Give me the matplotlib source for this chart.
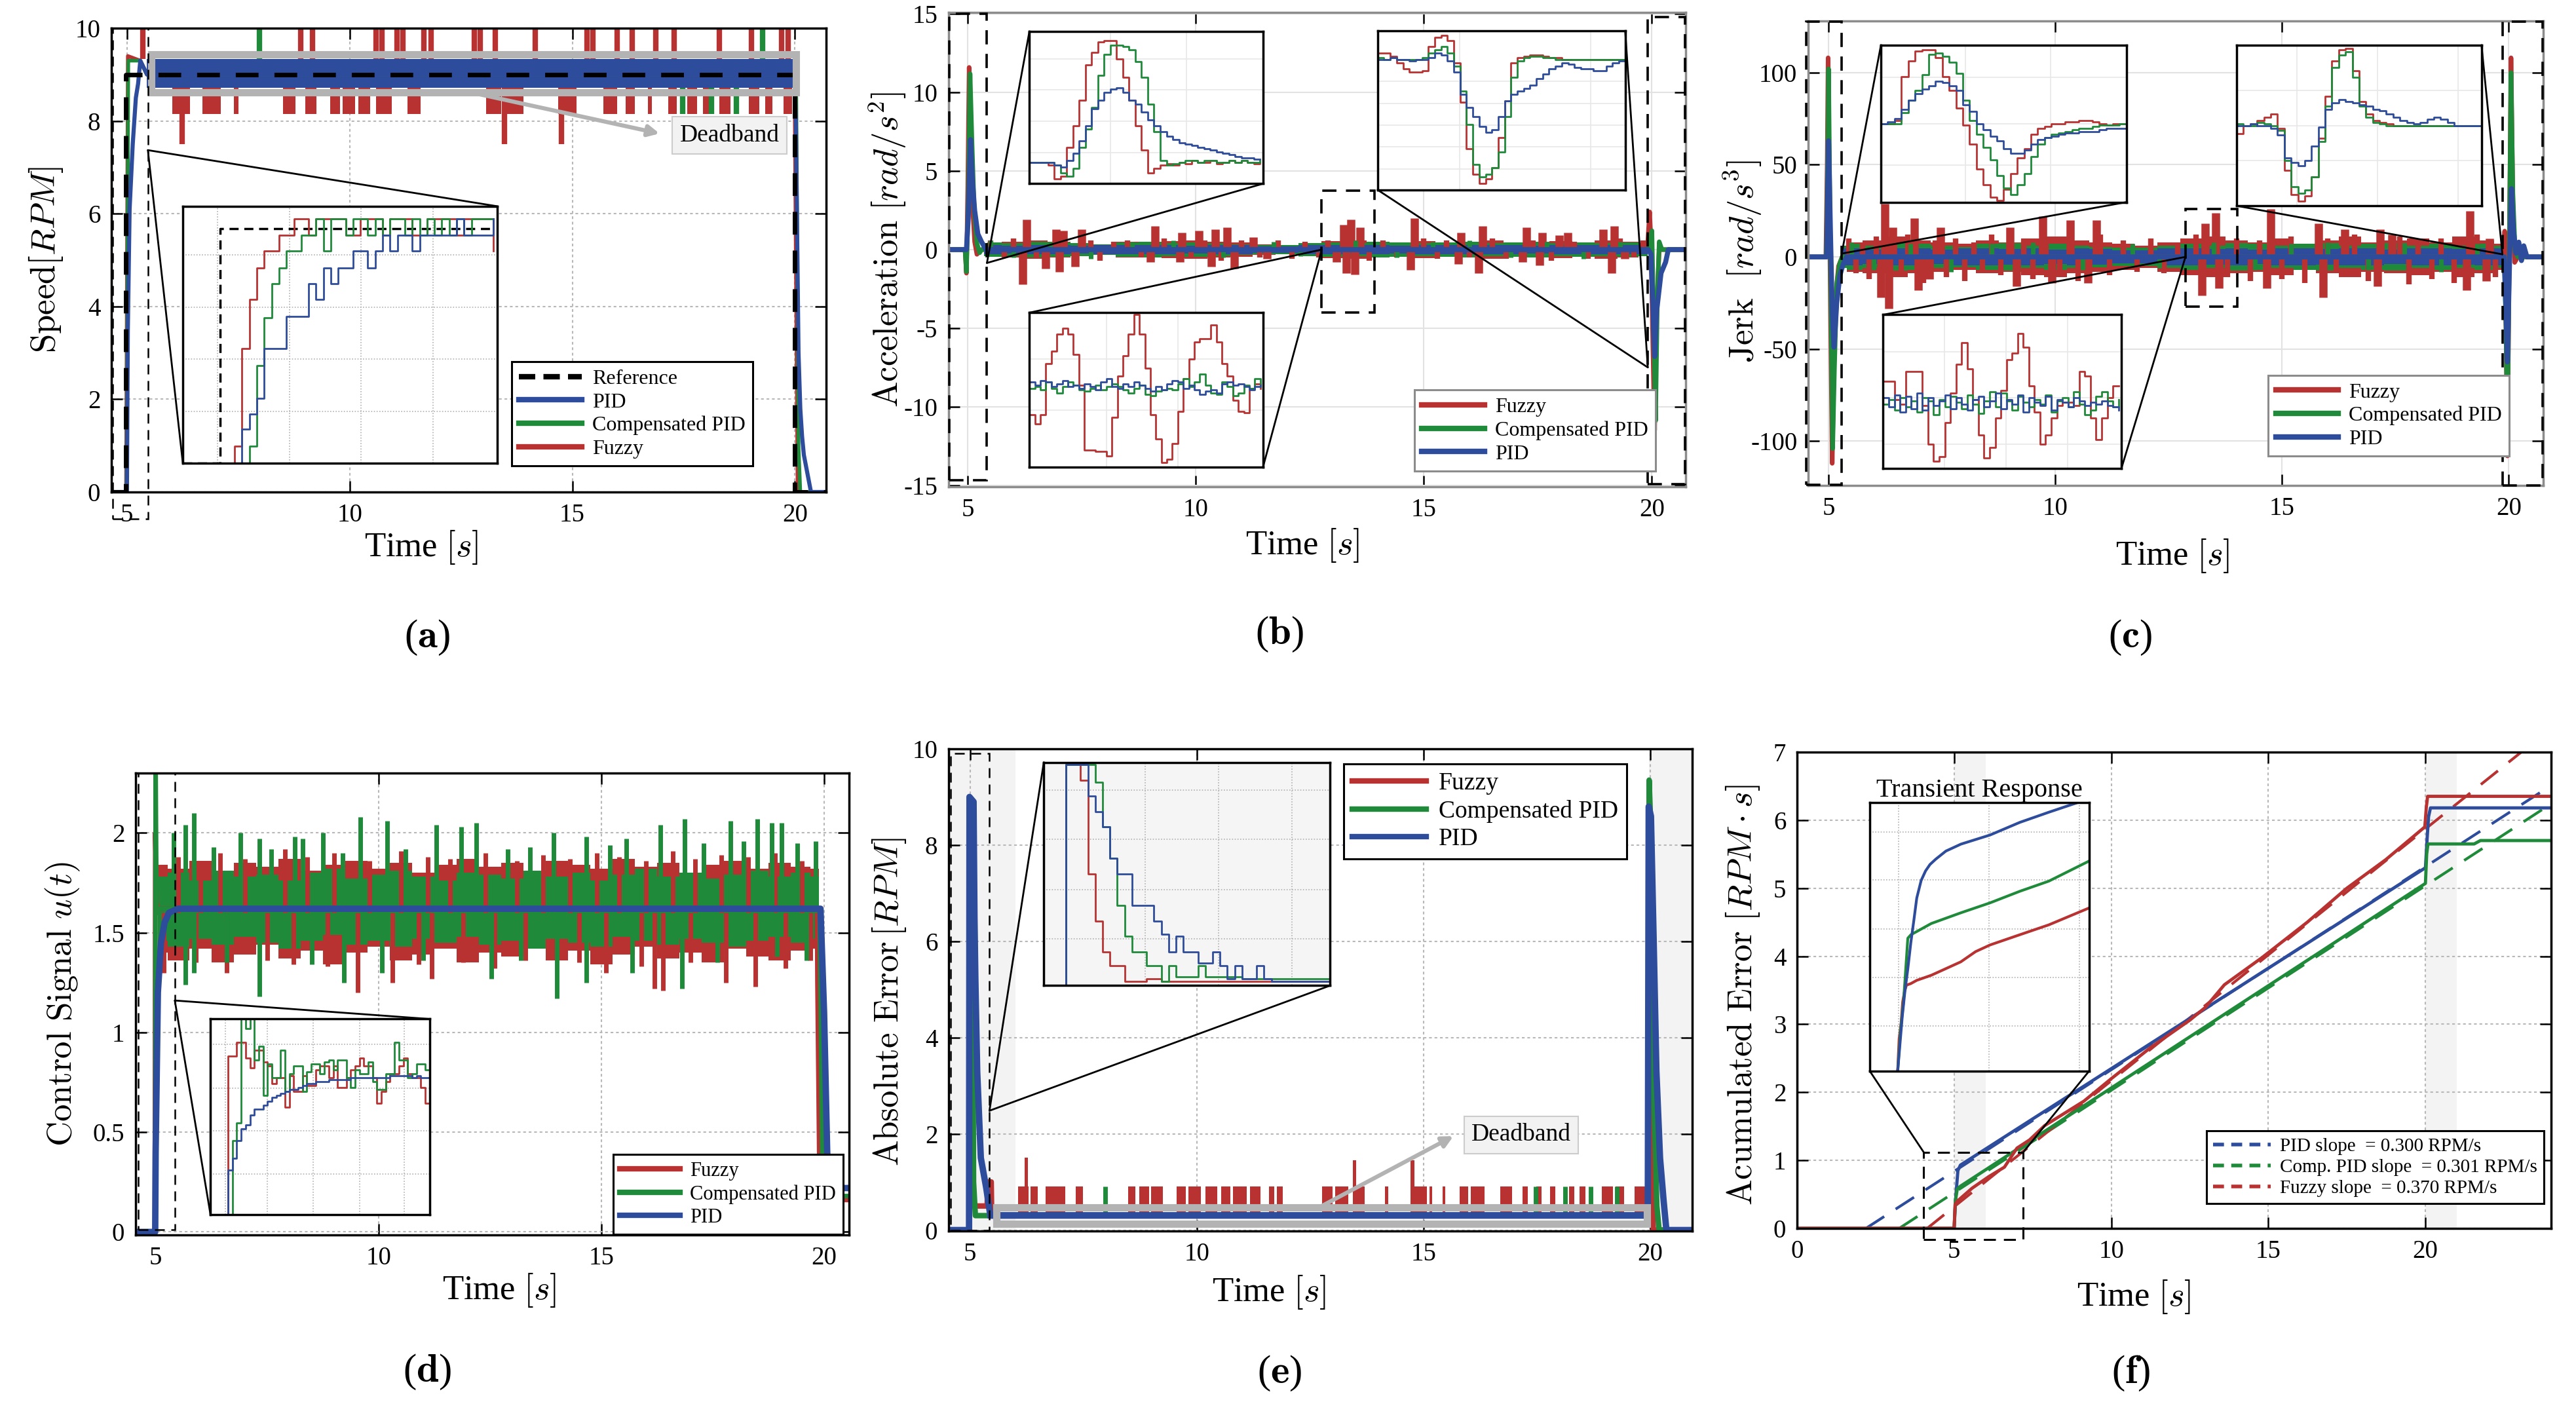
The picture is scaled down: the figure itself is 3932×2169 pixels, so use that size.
import numpy as np
import matplotlib
matplotlib.use("Agg")
import matplotlib.pyplot as plt
from matplotlib.patches import Rectangle, ConnectionPatch
from matplotlib.lines import Line2D

plt.rcParams['font.family'] = ['Liberation Serif', 'DejaVu Serif']
plt.rcParams['mathtext.fontset'] = 'cm'
plt.rcParams['axes.unicode_minus'] = False

RED = '#B83232'
GREEN = '#1F8A3A'
BLUE = '#2E4C9C'
GRAYBOX = '#b3b3b3'

# ---------------- (a) speed ----------------
speed_ref_t = [4.65, 4.97, 4.97, 19.99, 19.99, 20.7]
speed_ref_v = [0, 0, 9, 9, 0, 0]
speed_pid_t = [4.65, 5.0, 5.02, 5.06, 5.13, 5.2, 5.25, 5.3, 5.45, 19.99, 20.02, 20.08, 20.12, 20.16, 20.2, 20.26, 20.32, 20.36, 20.7]
speed_pid_v = [0, 0, 3.5, 6.1, 7.5, 8.5, 8.8, 9.3, 9.0, 9.0, 8.0, 3.0, 1.8, 1.2, 0.8, 0.5, 0.2, 0, 0]
speed_comp_t = [4.65, 4.99, 5.03, 5.3, 5.45, 19.99, 20.03, 20.08, 20.12, 20.7]
speed_comp_v = [0, 0, 9.3, 9.3, 9.0, 9.0, 8.5, 1.0, 0, 0]
speed_fuzzy_t = [4.65, 4.98, 5.02, 5.3, 5.45, 19.99, 20.02, 20.06, 20.7]
speed_fuzzy_v = [0, 0, 9.4, 9.3, 9.0, 9.0, 5.0, 0, 0]
speed_band = [5.45, 19.99, 8.72, 9.33]          # t0, t1, low, high of the PID band
speed_deadband = [5.55, 20.03, 8.62, 9.43]
speed_fuzzy_up_t = [5.35, 8.9, 9.17, 10.6, 10.72, 11.07, 11.2, 11.67, 11.83, 12.8, 12.94, 13.27, 14.17,
                    15.33, 15.47, 16.0, 16.35, 16.88, 17.28, 18.3, 19.03, 19.7, 19.85]
speed_fuzzy_dn_t0 = [6.02, 6.7, 7.4, 8.5, 9.0, 9.56, 9.85, 10.2, 10.6, 11.3, 13.06, 13.5, 14.69, 15.7, 16.2, 16.7,
                     17.16, 17.58, 17.94, 18.3, 18.97, 19.33, 19.75]
speed_fuzzy_dn_t1 = [6.42, 7.1, 7.5, 8.78, 9.25, 9.78, 10.12, 10.46, 10.95, 11.6, 13.4, 13.9, 15.1, 16.0, 16.4, 16.78,
                     17.34, 17.8, 18.06, 18.55, 19.2, 19.5, 19.93]
speed_fuzzy_deep_t = [6.24, 13.48, 14.75]
speed_comp_up_t = [7.98, 19.27]
speed_comp_dn_t = [17.48, 18.12, 18.69]
speed_levels = [10.0, 8.15, 7.5]               # spike tips: up, down, deep

speed_in_ref = [0, 0, 0, 0, 0] + [9.0] * 38
speed_in_fuzzy = [0, 0, 0, 0, 0, 0, 0, 0.65, 4.4, 6.3, 7.5, 8.15, 8.15, 8.76, 8.76, 9.4, 9.4,
                  8.76, 9.4, 9.4, 9.4, 9.4, 8.76, 8.76, 9.4, 9.4, 9.4, 8.76, 9.4, 9.4, 9.4, 8.76, 8.76,
                  9.4, 9.4, 9.4, 9.4, 8.76, 9.4, 9.4, 9.4, 9.4, 8.15]
speed_in_comp = [0] * 9 + [0.65, 3.75, 5.6, 6.9, 7.5, 8.15, 8.15, 8.76, 8.76, 9.4, 8.15, 9.4, 9.4, 8.76,
                           9.4, 9.4, 8.76, 9.4, 8.76, 9.4, 9.4, 8.76, 9.4, 8.76, 9.4, 8.76, 9.4, 8.76, 9.4,
                           8.76, 9.4, 9.4, 9.4, 9.4]
speed_in_pid = [0] * 8 + [1.3, 1.9, 2.5, 4.4, 4.4, 4.4, 5.65, 5.65, 5.65, 6.9, 6.3, 7.5, 6.9, 7.5, 7.5,
                          8.15, 8.15, 7.5, 8.15, 8.76, 8.15, 8.76, 8.76, 8.15, 8.76, 8.76, 8.76, 8.76, 8.76,
                          9.4, 8.76, 8.76, 8.76, 8.76, 9.4]

# ---------------- (b) acceleration ----------------
acc_fuzzy_t = [4.64, 4.94, 4.97, 5.0, 5.03, 5.06, 5.1, 5.15, 5.2, 5.3, 19.9, 19.95, 19.98, 20.02, 20.06, 20.1, 20.16, 20.69]
acc_fuzzy_v = [0, 0, -1.5, 4, 11.6, 8, 3, 0.5, -0.3, 0, 0, 2.4, 0.5, -6, -11.5, -4, 0, 0]
acc_comp_t = [4.64, 4.94, 4.97, 5.01, 5.05, 5.09, 5.14, 5.2, 5.26, 5.3, 19.9, 19.96, 20.0, 20.04, 20.08, 20.12, 20.16, 20.22, 20.69]
acc_comp_v = [0, 0, -1.4, 3, 11.2, 7, 2.5, 0.4, -0.2, 0, 0, 0.3, 1.2, -5, -10.9, -3, 0.5, 0, 0]
acc_pid_t = [4.64, 4.97, 5.01, 5.06, 5.1, 5.15, 5.22, 5.3, 5.4, 19.92, 19.98, 20.02, 20.06, 20.1, 20.2, 20.3, 20.36, 20.69]
acc_pid_v = [0, 0, 2, 7.0, 4.5, 2.5, 1.0, 0.5, 0, 0, -0.3, -3.5, -6.8, -4, -1.5, -0.8, 0, 0]
acc_env_t = [5.35, 5.5, 6.0, 6.5, 7.0, 7.5, 8.0, 8.5, 9.0, 9.5, 10.0, 10.5, 11.0, 11.5, 12.0, 12.5,
             13.0, 13.5, 14.0, 14.5, 15.0, 15.5, 16.0, 16.5, 17.0, 17.5, 18.0, 18.5, 19.0, 19.5, 19.9]
acc_fuzzy_env = [0.3, 0.4, 0.5, 0.6, 0.5, 0.4, 0.35, 0.5, 0.45, 0.55, 0.6, 0.5, 0.45, 0.35, 0.3, 0.4,
                 0.55, 0.6, 0.5, 0.45, 0.55, 0.35, 0.5, 0.6, 0.45, 0.5, 0.55, 0.45, 0.6, 0.5, 0.35]
acc_comp_env = [0.4, 0.45, 0.4, 0.5, 0.45, 0.4, 0.35, 0.45, 0.5, 0.4, 0.45, 0.4, 0.35, 0.3, 0.3, 0.4,
                0.45, 0.4, 0.5, 0.45, 0.4, 0.45, 0.5, 0.4, 0.45, 0.5, 0.4, 0.45, 0.4, 0.45, 0.4]
acc_pid_env = [0.3, 0.3, 0.25, 0.3, 0.3, 0.25, 0.3, 0.3, 0.28, 0.3, 0.25, 0.3, 0.28, 0.22, 0.22, 0.3,
               0.3, 0.28, 0.3, 0.25, 0.3, 0.3, 0.28, 0.3, 0.3, 0.25, 0.3, 0.3, 0.28, 0.3, 0.3]
acc_fuzzy_spk_t = [6.2, 6.29, 6.71, 6.93, 7.01, 7.1, 7.35, 7.49, 9.0, 9.1, 9.65, 9.7, 10.07, 10.34, 10.43,
                   10.69, 10.84, 11.26, 11.56, 13.08, 13.24, 13.3, 13.4, 13.48, 13.6, 14.71, 14.8, 15.75,
                   15.81, 16.2, 16.29, 17.17, 17.25, 17.53, 17.6, 17.97, 18.15, 18.93, 19.11, 19.17, 19.41]
acc_fuzzy_spk_v = [-2.2, 1.9, -1.2, 1.3, -1.4, 1.2, -1.1, 1.3, -0.8, 1.5, -0.8, 1.1, 1.2, -1.1, 1.3,
                   1.4, -1.2, 0.8, -0.6, -0.8, 1.6, -1.5, 1.9, -1.6, 1.4, -1.3, 2.0, -0.9,
                   1.1, -1.5, 1.5, -0.8, 1.4, -1.0, 1.1, 0.9, 1.1, 1.3, -1.5, 1.5, -0.6]
acc_fuzzy_small_t = [5.5, 5.8, 6.0, 6.5, 7.7, 7.9, 8.2, 8.5, 8.8, 9.3, 9.9, 10.2, 10.55, 11.0, 11.4, 11.8,
                     12.1, 12.4, 12.7, 12.9, 13.8, 14.1, 14.4, 15.0, 15.3, 15.5, 16.0, 16.5, 16.8, 17.4,
                     17.8, 18.3, 18.6, 19.3, 19.6, 19.8]
acc_fuzzy_small_v = [0.6, -0.5, 0.7, -0.6, 0.6, -0.7, 0.5, 0.6, -0.5, 0.7, -0.6, 0.5, -0.7, 0.6, -0.5, 0.6,
                     -0.6, 0.5, -0.5, 0.6, -0.7, 0.6, -0.5, 0.7, -0.6, 0.6, -0.5, 0.7, -0.6, 0.6,
                     -0.7, 0.5, -0.6, 0.7, -0.5, 0.6]
acc_comp_spk_t = [5.5, 6.0, 6.8, 7.7, 8.6, 9.5, 10.6, 11.7, 12.3, 13.5, 14.4, 15.2, 16.0, 16.9, 17.7, 18.5, 19.3]
acc_comp_spk_v = [0.6, -0.5, 0.5, -0.6, 0.5, 0.6, -0.5, 0.5, -0.4, 0.6, -0.5, 0.5, 0.6, -0.5, 0.5, -0.6, 0.5]

acc_in1_fuzzy = [14, 14, 14, 12, 3, 5, 24, 38, 55, 78, 86, 93, 94, 94, 82, 70, 55, 38, 22, 7, 10, 12, 13, 12,
                 14, 13, 15, 14, 14, 15, 13, 14, 15, 14, 15, 14, 13, 14]
acc_in1_comp = [14, 14, 14, 14, 12, 7, 5, 10, 24, 36, 50, 71, 85, 91, 91, 90, 88, 80, 70, 52, 34, 15, 12, 13,
                14, 15, 15, 14, 15, 15, 14, 14, 15, 14, 15, 14, 14, 15]
acc_in1_pid = [14, 14, 14, 14, 12, 11, 15, 20, 28, 38, 49, 55, 60, 62, 63, 60, 55, 52, 47, 42, 38, 34, 31, 29,
               27, 26, 25, 24, 23, 22, 21, 20, 19, 18, 17, 17, 16, 16]
acc_in2_fuzzy = [34, 28, 34, 67, 75, 86, 90, 86, 73, 53, 11, 11, 10, 10, 7, 32, 59, 72, 86, 99, 86, 64, 34, 18,
                 3, 5, 15, 36, 57, 70, 81, 83, 83, 92, 81, 67, 59, 43, 36, 35, 51, 54, 51]
acc_in2_comp = [51, 52, 50, 55, 51, 48, 52, 55, 53, 50, 49, 51, 53, 50, 52, 54, 52, 50, 48, 51, 53, 47, 46, 49,
                50, 51, 50, 54, 57, 52, 55, 60, 53, 48, 47, 55, 52, 46, 48, 53, 51, 57, 52]
acc_in2_pid = [55, 53, 56, 55, 52, 54, 56, 52, 53, 51, 54, 52, 50, 55, 57, 52, 51, 54, 52, 55, 53, 51, 49, 52,
               50, 54, 56, 55, 51, 53, 50, 47, 49, 50, 48, 54, 55, 53, 54, 52, 50, 52, 53]
acc_in3_fuzzy = [86, 86, 84, 80, 76, 74, 74, 75, 90, 96, 97, 94, 80, 55, 26, 10, 4, 7, 14, 33, 56, 80, 83, 84,
                 85, 85, 84, 83, 83, 82, 82, 82, 82, 82, 82, 82, 82, 82, 82, 82]
acc_in3_comp = [83, 82, 83, 82, 82, 82, 82, 83, 86, 88, 90, 86, 78, 62, 41, 16, 8, 10, 14, 24, 46, 71, 81, 83,
                84, 84, 83, 83, 82, 82, 82, 82, 82, 82, 82, 82, 82, 82, 82, 82]
acc_in3_pid = [82, 82, 83, 82, 82, 81, 82, 82, 83, 86, 85, 81, 74, 60, 52, 46, 40, 36, 38, 46, 56, 60, 62, 64,
               66, 70, 73, 76, 78, 80, 79, 77, 76, 76, 75, 75, 78, 80, 81, 82]

# ---------------- (c) jerk ----------------
jerk_fuzzy_t = [4.55, 4.94, 4.97, 4.99, 5.03, 5.08, 5.11, 5.16, 5.22, 5.3, 19.88, 19.91, 19.94, 19.97, 20.01,
                20.05, 20.09, 20.13, 20.2, 20.76]
jerk_fuzzy_v = [0, 0, 50, 108, 0, -112, -70, -20, -5, 0, 0, 14, -40, -108, 0, 108, 30, -3, 0, 0]
jerk_comp_t = [4.55, 4.95, 4.98, 5.0, 5.04, 5.09, 5.13, 5.18, 5.24, 5.3, 19.9, 19.94, 19.97, 20.01, 20.05,
               20.09, 20.14, 20.2, 20.76]
jerk_comp_v = [0, 0, 50, 102, 0, -104, -60, -15, -4, 0, 0, -40, -97, 0, 100, 35, 3, 0, 0]
jerk_pid_t = [4.55, 4.96, 5.0, 5.04, 5.08, 5.12, 5.18, 5.25, 5.32, 5.4, 19.9, 19.94, 19.97, 20.01, 20.06,
              20.1, 20.16, 20.22, 20.28, 20.33, 20.4, 20.76]
jerk_pid_v = [0, 0, 63, 15, -30, -49, -25, -10, -4, 0, 0, -30, -57, -10, 37, 15, 2, 8, -2, 6, 0, 0]
jerk_env_t = [5.3, 5.5, 6.0, 6.5, 7.0, 7.5, 8.0, 8.5, 9.0, 9.5, 10.0, 10.5, 11.0, 11.5, 12.0, 12.5,
              13.0, 13.5, 14.0, 14.5, 15.0, 15.5, 16.0, 16.5, 17.0, 17.5, 18.0, 18.5, 19.0, 19.5, 19.85]
jerk_fuzzy_env = [6, 8, 9, 11, 9, 8, 7, 9, 8, 10, 11, 9, 8, 7, 6, 8, 10, 11, 9, 8, 10, 7, 9, 11, 8, 9, 10, 8,
                  11, 9, 7]
jerk_comp_env = [6, 7, 6, 7.5, 7, 6, 5.5, 7, 7.5, 6, 7, 6, 5.5, 5, 5, 6, 7, 6, 7.5, 7, 6, 7, 7.5, 6, 7, 7.5,
                 6, 7, 6, 7, 6]
jerk_pid_env = [4.5, 4.5, 4, 4.5, 4.5, 4, 4.5, 4.5, 4.2, 4.5, 4, 4.5, 4.2, 3.5, 3.5, 4.5, 4.5, 4.2, 4.5, 4,
                4.5, 4.5, 4.2, 4.5, 4.5, 4, 4.5, 4.5, 4.2, 4.5, 4.5]
jerk_fuzzy_spk_t = [6.15, 6.24, 6.33, 6.42, 6.89, 6.98, 7.22, 7.47, 9.0, 9.15, 9.72, 9.93, 10.33, 10.72,
                    10.9, 13.24, 13.3, 13.53, 13.61, 14.66, 14.75, 15.8, 15.9, 16.38, 17.1, 17.17, 17.42,
                    19.07, 19.14, 19.5, 19.57]
jerk_fuzzy_spk_v = [-22, 29, -28, 16, 21, -18, -12, 16, 16, -16, 22, -14, 20, -14, 20, -21, 18, 24, -17,
                    -17, 26, 18, -22, 15, -16, 15, 12, -18, 25, -13, 10]
jerk_fuzzy_small_t = [5.45, 5.6, 5.75, 5.9, 6.05, 6.6, 6.75, 7.1, 7.35, 7.6, 7.8, 8.0, 8.2, 8.4, 8.6, 8.8,
                      9.3, 9.5, 9.8, 10.1, 10.5, 11.0, 11.2, 11.5, 11.8, 12.1, 12.4, 12.7, 13.1, 13.8,
                      14.0, 14.3, 14.5, 15.0, 15.2, 15.5, 16.0, 16.2, 16.6, 16.9, 17.6, 17.8, 18.0,
                      18.3, 18.5, 18.8, 19.3, 19.7]
jerk_fuzzy_small_v = [10, -9, 8, -12, 11, -10, 12, -14, 9, -11, 10, -13, 8, -9, 12, -10, 9, -12, 11, -9,
                      -13, 12, -10, 9, -8, 10, -9, 8, 12, -11, 10, -13, 9, -12, 11, -14, 10, -9, 12, -13,
                      11, -15, 9, -12, 10, -14, 12, -11]
jerk_comp_spk_t = [5.5, 6.0, 6.8, 7.7, 8.6, 9.5, 10.6, 11.7, 12.3, 13.5, 14.4, 15.2, 16.0, 16.9, 17.7, 18.5, 19.3]
jerk_comp_spk_v = [8, -7, 7, -8, 7, 8, -7, 7, -6, 8, -7, 7, 8, -7, 7, -8, 7]

jerk_in1_fuzzy = [50, 50, 52, 80, 90, 96, 97, 97, 92, 80, 71, 60, 49, 37, 21, 11, 3, 1, 8, 18, 28, 34, 43,
                  47, 48, 50, 50, 51, 51, 52, 52, 51, 50, 49, 50, 50, 49]
jerk_in1_comp = [50, 50, 50, 57, 65, 71, 81, 94, 95, 93, 89, 82, 65, 52, 43, 35, 27, 17, 9, 5, 11, 18, 29,
                 37, 41, 43, 44, 45, 46, 47, 47, 48, 49, 49, 49, 50, 51]
jerk_in1_pid = [50, 51, 53, 59, 65, 69, 72, 74, 77, 76, 74, 71, 62, 58, 50, 46, 42, 39, 34, 31, 31, 33, 37,
                40, 41, 42, 43, 44, 44, 45, 45, 45, 46, 47, 47, 47, 48]
jerk_in2_fuzzy = [57, 57, 45, 42, 63, 63, 63, 41, 16, 5, 8, 30, 49, 68, 82, 65, 45, 22, 7, 14, 33, 51, 71,
                  75, 88, 79, 54, 37, 16, 22, 33, 41, 43, 43, 41, 63, 60, 33, 19, 33, 46, 54, 54]
jerk_in2_comp = [42, 45, 38, 46, 40, 44, 37, 46, 44, 35, 45, 40, 47, 43, 39, 48, 42, 36, 44, 50, 40, 49, 44,
                 38, 47, 43, 40, 45, 42, 48, 37, 44, 46, 40, 50, 42, 35, 38, 47, 50, 44, 40, 45]
jerk_in2_pid = [46, 40, 48, 37, 47, 39, 49, 38, 46, 41, 44, 48, 39, 46, 42, 38, 45, 47, 40, 44, 49, 39, 45,
                42, 48, 37, 46, 43, 41, 47, 38, 45, 43, 40, 46, 44, 41, 43, 42, 44, 41, 40, 38]
jerk_in3_fuzzy = [45, 50, 51, 53, 55, 57, 48, 22, 7, 3, 6, 18, 42, 68, 90, 97, 98, 84, 65, 57, 53, 52, 51,
                  50, 50, 50, 50, 50, 50, 50, 50, 50, 50, 50, 50, 50, 50]
jerk_in3_comp = [51, 50, 50, 52, 51, 50, 47, 28, 12, 8, 10, 18, 40, 62, 86, 94, 96, 80, 62, 55, 52, 51, 50,
                 50, 50, 50, 50, 50, 50, 50, 50, 50, 50, 50, 50, 50, 50]
jerk_in3_pid = [50, 50, 51, 50, 50, 48, 44, 30, 27, 25, 28, 37, 49, 60, 64, 66, 65, 64, 63, 62, 60, 59, 57,
                55, 53, 52, 51, 52, 54, 55, 54, 52, 50, 50, 50, 50, 50]

# ---------------- (d) control signal ----------------
ctrl_pid_t = [4.55, 4.99, 5.0, 5.05, 5.12, 5.2, 5.3, 5.5, 19.92, 20.0, 20.07, 20.12, 20.56]
ctrl_pid_v = [0, 0, 0.4, 1.2, 1.45, 1.55, 1.6, 1.62, 1.62, 1.1, 0.4, 0.22, 0.22]
ctrl_comp_t = [4.55, 4.99, 5.0, 5.02, 5.05, 19.9, 19.97, 20.56]
ctrl_comp_v = [0, 0, 2.3, 1.6, 1.62, 1.62, 0.18, 0.18]
ctrl_fuzzy_t = [4.55, 4.98, 4.99, 5.02, 5.05, 19.84, 19.85, 19.9, 20.56]
ctrl_fuzzy_v = [0, 0, 2.0, 1.65, 1.62, 1.62, 1.25, 0.16, 0.16]
ctrl_band_t = [5.05, 5.5, 6.0, 6.5, 7.0, 7.5, 8.0, 8.5, 9.0, 9.5, 10.0, 10.5, 11.0, 11.5, 12.0, 12.5,
               13.0, 13.5, 14.0, 14.5, 15.0, 15.5, 16.0, 16.5, 17.0, 17.5, 18.0, 18.5, 19.0, 19.5, 19.88]
ctrl_fuzzy_hi = [1.84, 1.82, 1.86, 1.80, 1.85, 1.83, 1.87, 1.81, 1.84, 1.86, 1.82, 1.85, 1.80, 1.84, 1.87, 1.83,
                 1.85, 1.81, 1.86, 1.84, 1.82, 1.87, 1.83, 1.85, 1.80, 1.84, 1.86, 1.82, 1.85, 1.83, 1.82]
ctrl_fuzzy_lo = [1.40, 1.36, 1.42, 1.35, 1.39, 1.44, 1.37, 1.41, 1.34, 1.40, 1.43, 1.36, 1.39, 1.42, 1.35, 1.40,
                 1.38, 1.44, 1.36, 1.41, 1.34, 1.39, 1.43, 1.37, 1.40, 1.35, 1.42, 1.38, 1.36, 1.41, 1.42]
ctrl_comp_hi = [1.78, 1.80, 1.76, 1.81, 1.78, 1.79, 1.76, 1.80, 1.82, 1.77, 1.79, 1.81, 1.78, 1.76, 1.80, 1.79,
                1.77, 1.81, 1.78, 1.80, 1.76, 1.79, 1.82, 1.78, 1.80, 1.77, 1.79, 1.81, 1.78, 1.80, 1.78]
ctrl_comp_lo = [1.46, 1.43, 1.47, 1.44, 1.48, 1.45, 1.42, 1.46, 1.49, 1.44, 1.46, 1.43, 1.47, 1.45, 1.48, 1.44,
                1.46, 1.42, 1.47, 1.45, 1.43, 1.48, 1.46, 1.44, 1.47, 1.45, 1.43, 1.46, 1.48, 1.45, 1.47]
ctrl_comp_up_t = [5.4, 5.67, 5.86, 6.3, 6.9, 7.33, 7.6, 8.12, 8.3, 8.76, 9.2, 9.59, 10.2, 10.6, 11.3, 11.86,
                  12.2, 12.9, 13.4, 13.93, 14.67, 15.2, 15.56, 16.32, 16.87, 17.3, 17.9, 18.2, 18.5, 18.83,
                  19.04, 19.4, 19.81]
ctrl_comp_up_v = [2.0, 2.04, 2.1, 1.93, 2.0, 1.97, 1.92, 1.98, 1.97, 2.0, 1.9, 2.08, 2.06, 1.92, 2.04, 2.03,
                  2.05, 1.92, 1.93, 2.0, 1.98, 1.94, 1.97, 2.04, 2.07, 1.95, 2.06, 1.96, 2.07, 2.05,
                  2.05, 1.95, 1.96]
ctrl_comp_dn_t = [5.67, 5.86, 6.6, 7.33, 8.5, 9.22, 10.08, 11.0, 12.53, 13.2, 14.0, 14.67, 15.7, 16.81, 17.6, 18.95, 19.6]
ctrl_comp_dn_v = [1.24, 1.3, 1.35, 1.18, 1.34, 1.25, 1.3, 1.36, 1.27, 1.36, 1.17, 1.25, 1.3, 1.22, 1.35, 1.38, 1.36]
ctrl_fuzzy_up_t = [5.5, 6.0, 6.45, 7.0, 7.9, 8.4, 9.0, 9.8, 10.5, 11.1, 11.6, 12.4, 13.1, 13.7, 14.3, 14.9,
                   15.4, 16.0, 16.6, 17.1, 17.7, 18.3, 18.9, 19.5]
ctrl_fuzzy_up_v = [1.88, 1.86, 1.9, 1.87, 1.92, 1.88, 1.9, 1.86, 1.91, 1.88, 1.87, 1.9, 1.86, 1.89, 1.87, 1.9,
                   1.88, 1.86, 1.91, 1.87, 1.89, 1.88, 1.9, 1.86]
ctrl_fuzzy_dn_t = [5.18, 5.9, 6.6, 7.5, 8.1, 8.86, 9.53, 10.32, 10.9, 11.2, 11.9, 12.6, 13.3, 14.5, 15.1,
                   15.9, 16.2, 16.38, 17.0, 17.8, 18.46, 19.14, 19.7]
ctrl_fuzzy_dn_v = [1.3, 1.35, 1.3, 1.36, 1.34, 1.33, 1.2, 1.25, 1.34, 1.27, 1.35, 1.32, 1.36, 1.35, 1.3,
                   1.33, 1.22, 1.21, 1.35, 1.25, 1.23, 1.32, 1.36]
ctrl_in_fuzzy = [-10, -10, -10, -10, 81, 81, 88, 88, 80, 75, 84, 84, 78, 76, 67, 70, 70, 55, 71, 63, 63, 71,
                 66, 66, 74, 76, 76, 70, 76, 65, 65, 70, 74, 76, 80, 76, 76, 70, 57, 63, 68, 72, 72, 76, 80,
                 72, 70, 70, 65, 57, 59]
ctrl_in_comp = [-10, -10, -10, -10, -10, 38, 47, 104, 95, 104, 79, 86, 61, 77, 70, 70, 84, 63, 72, 76, 76,
                63, 73, 77, 77, 72, 78, 79, 74, 79, 79, 70, 65, 74, 72, 72, 78, 68, 64, 64, 72, 72, 88, 79,
                79, 70, 72, 77, 77, 74, 77]
ctrl_in_pid = [-10, -10, -10, -10, 23, 29, 38, 44, 46, 51, 54, 54, 56, 58, 60, 61, 62, 63, 64, 64, 65, 66, 67,
               67, 68, 68, 68, 69, 69, 69, 69, 69, 70, 70, 70, 70, 70, 70, 70, 70, 70, 71, 71, 71, 71, 71,
               70, 71, 70, 70, 69]

# ---------------- (e) absolute error ----------------
err_pid_t = [4.53, 4.98, 4.99, 5.08, 5.1, 5.12, 5.16, 5.24, 5.36, 5.45, 19.95, 19.97, 20.02, 20.08, 20.14,
             20.22, 20.3, 20.36, 20.93]
err_pid_v = [0, 0, 9.0, 8.9, 6.5, 5.2, 3.3, 1.5, 0.87, 0.3, 0.3, 8.8, 8.6, 6.0, 3.3, 1.5, 0.6, 0, 0]
err_comp_t = [4.53, 4.99, 5.0, 5.05, 5.08, 5.12, 5.45, 19.96, 19.98, 20.03, 20.08, 20.15, 20.2, 20.93]
err_comp_v = [0, 0, 8.4, 8.3, 1.0, 0.3, 0.3, 0.3, 9.35, 8.0, 3.0, 0.5, 0, 0]
err_fuzzy_t = [4.53, 4.98, 4.99, 5.04, 5.07, 5.38, 5.39, 5.47, 5.48, 19.96, 19.98, 20.02, 20.07, 20.93]
err_fuzzy_v = [0, 0, 9.0, 8.5, 0.5, 0.5, 1.0, 1.0, 0.3, 0.3, 9.0, 5.0, 0, 0]
err_band = [5.45, 19.95, 0.3]
err_deadband = [5.58, 19.93, 0.13, 0.47]
err_fuzzy_b0 = [6.06, 6.33, 6.67, 7.34, 8.49, 8.73, 9.0, 9.56, 9.82, 10.19, 10.54, 10.8, 11.17, 11.59, 11.77,
                12.76, 13.05, 13.46, 14.16, 14.78, 15.14, 15.42, 15.8, 16.05, 16.7, 17.19, 17.49, 17.79,
                18.21, 18.45, 18.93, 19.24, 19.66]
err_fuzzy_b1 = [6.29, 6.5, 7.1, 7.49, 8.65, 8.95, 9.25, 9.76, 10.09, 10.45, 10.74, 11.11, 11.41, 11.71, 11.9,
                13.0, 13.34, 13.7, 14.22, 15.08, 15.2, 15.48, 15.99, 16.35, 16.95, 17.31, 17.61, 17.91,
                18.33, 18.57, 19.18, 19.42, 19.9]
err_fuzzy_tall_t = [6.24, 13.48, 14.76]
err_fuzzy_tall_v = [1.5, 1.45, 1.45]
err_comp_spk_t = [7.98, 17.47, 18.12, 18.69, 19.27]
err_burst_top = 0.9
err_in_pid = [0, 0, 0, 99, 99, 99, 85, 78, 71, 57, 50, 50, 36, 36, 36, 29, 23, 15, 22, 15, 15, 10, 10, 15,
              9, 3, 9, 3, 3, 9, 3, 2, 2, 2, 2, 2, 2, 2, 2, 2]
err_in_comp = [0, 0, 0, 99, 99, 99, 99, 91, 71, 57, 36, 22, 15, 15, 9, 9, 2, 9, 4, 4, 4, 9, 4, 4, 4, 4, 4,
               3, 3, 3, 3, 3, 3, 3, 3, 3, 3, 3, 3, 3]
err_in_fuzzy = [0, 0, 0, 99, 99, 92, 50, 29, 15, 9, 9, 2, 2, 2, 3, 3, 2, 2, 2, 2, 2, 2, 2, 2, 2, 2, 2, 2, 2,
                2, 2, 2, 2, 2, 2, 2, 2, 2, 2, 2]

# ---------------- (f) accumulated error ----------------
cum_pid_t = [0, 5.0, 5.05, 5.12, 5.2, 20.0, 20.05, 20.1, 20.16, 24.0]
cum_pid_v = [0, 0, 0.45, 0.85, 0.93, 5.3, 5.7, 6.05, 6.18, 6.18]
cum_comp_t = [0, 5.0, 5.04, 5.1, 5.2, 20.0, 20.04, 20.08, 21.55, 21.75, 24.0]
cum_comp_v = [0, 0, 0.4, 0.58, 0.62, 5.07, 5.5, 5.65, 5.65, 5.7, 5.7]
cum_fuzzy_t = [0, 5.0, 5.03, 5.1, 5.57, 6.1, 6.6, 7.0, 7.4, 7.88, 9.13, 10.0, 11.26, 12.5, 13.0, 13.6, 14.8,
               16.24, 17.5, 18.74, 19.98, 20.03, 20.07, 24.0]
cum_fuzzy_v = [0, 0, 0.35, 0.4, 0.59, 0.76, 0.9, 1.18, 1.3, 1.51, 1.87, 2.2, 2.66, 3.06, 3.25, 3.58, 3.98,
               4.5, 5.0, 5.42, 5.9, 6.2, 6.35, 6.35]
fit_pid = [[2.19, 24.0], [0.0, 6.51]]
fit_comp = [[3.25, 24.0], [0.0, 6.24]]
fit_fuzzy = [[4.14, 23.05], [0.0, 7.0]]
slope_labels = ['PID slope  = 0.300 RPM/s', 'Comp. PID slope  = 0.301 RPM/s', 'Fuzzy slope  = 0.370 RPM/s']
cum_in_pid_x = [50, 58, 63, 68, 73.5, 78.7, 84, 91.8, 99.7, 107.6, 118, 136, 163, 215, 268, 320, 370]
cum_in_pid_v = [0, 20, 30, 38, 48, 56, 64.5, 71, 74.6, 77, 79, 82, 84.6, 88, 92.7, 96.5, 100]
cum_in_comp_x = [50, 55, 60.4, 65.6, 68, 73.5, 84, 110, 163, 215, 268, 320, 392]
cum_in_comp_v = [0, 15, 26, 42, 49.5, 50.8, 52, 55, 59, 62.7, 67, 70.8, 78.3]
cum_in_fuzzy_x = [49.9, 52.5, 56.1, 58.8, 61.9, 65.6, 73.5, 84, 110, 136.4, 162.7, 189, 215, 268, 320, 392]
cum_in_fuzzy_v = [0, 12, 18, 25.7, 29.4, 32, 32.6, 33.8, 35.7, 38.2, 40.7, 44.5, 47, 50.8, 54.5, 60.8]

# ================= drawing =================
fig = plt.figure(figsize=(39.32, 21.69), dpi=100)


def make_axes(rect, xlim, ylim, xticks, yticks, light=False):
    ax = fig.add_axes(rect)
    ax.set_xlim(xlim)
    ax.set_ylim(ylim)
    ax.set_xticks(xticks)
    ax.set_yticks(yticks)
    for s in ax.spines.values():
        s.set_color('#8c8c8c' if light else 'black')
        s.set_linewidth(2.5)
    if light:
        ax.grid(True, color='#e2e2e2', lw=1.5, ls='-')
    else:
        ax.grid(True, color='#b8b8b8', lw=1.5, ls=(0, (2, 2)))
    ax.set_axisbelow(True)
    ax.tick_params(direction='in', length=12, width=1.8, top=True, right=True, labelsize=28, pad=12)
    return ax


def labels(ax, ylab, ypos, xpos):
    ax.text(ypos[0], ypos[1], ylab, transform=ax.transAxes, rotation=90, ha='center', va='center', fontsize=38)
    ax.text(xpos[0], xpos[1], 'Time $[s]$', transform=ax.transAxes, ha='center', va='center', fontsize=38)


def inset(ax, rect, xlim, ylim, xg, yg, bg='white', grid_ls=(0, (1, 1.5)), grid_c='#b0b0b0'):
    ins = ax.inset_axes(rect)
    ins.set_xlim(xlim)
    ins.set_ylim(ylim)
    ins.set_xticks(xg)
    ins.set_yticks(yg)
    ins.tick_params(length=0, labelbottom=False, labelleft=False)
    ins.grid(True, ls=grid_ls, color=grid_c, lw=1.2)
    ins.set_facecolor(bg)
    for s in ins.spines.values():
        s.set_color('black')
        s.set_linewidth(2.5)
    return ins


def connect(ax, ins, xy, corners):
    for c in corners:
        con = ConnectionPatch(xyA=xy, coordsA=ax.transData, xyB=c, coordsB=ins.transAxes,
                              color='black', lw=2.0, zorder=6)
        fig.add_artist(con)


def dbox(ax, x0, x1, y0, y1, lw=2.2):
    ax.add_patch(Rectangle((x0, y0), x1 - x0, y1 - y0, fill=False, ec='black', lw=lw,
                           ls=(0, (6, 4)), clip_on=False, zorder=6))


def legend(ax, handles, names, anchor, loc, size, edge):
    lg = ax.legend(handles, names, loc=loc, bbox_to_anchor=anchor, fontsize=size, fancybox=False,
                   borderpad=0.35, labelspacing=0.2, handlelength=3.0, handletextpad=0.5, borderaxespad=0,
                   framealpha=1)
    lg.get_frame().set_edgecolor(edge)
    lg.get_frame().set_linewidth(2.2)
    lg.set_zorder(10)


def H(c, ls='-', lw=6):
    return Line2D([], [], color=c, lw=lw, ls=ls)


def steps(ins, vals, color, lw=2.0, ls='-'):
    ins.plot(np.arange(len(vals)), vals, drawstyle='steps-post', color=color, lw=lw, ls=ls)


def band(ax, t, half, color):
    ax.fill_between(t, -np.asarray(half), half, step='mid', color=color, lw=0)


# ---- (a)
ax = make_axes([0.04323, 0.65376, 0.27747, 0.32642], (4.65, 20.7), (0, 10), [5, 10, 15, 20], [0, 2, 4, 6, 8, 10])
ax.plot(speed_fuzzy_t, speed_fuzzy_v, color=RED, lw=4)
ax.plot(speed_comp_t, speed_comp_v, color=GREEN, lw=4)
ax.bar(speed_fuzzy_dn_t0, speed_levels[1] - speed_band[2], width=np.subtract(speed_fuzzy_dn_t1, speed_fuzzy_dn_t0),
       bottom=speed_band[2], align='edge', color=RED, lw=0)
ax.vlines(speed_fuzzy_up_t, speed_band[3], speed_levels[0], color=RED, lw=6)
ax.vlines(speed_fuzzy_deep_t, speed_levels[2], speed_band[2], color=RED, lw=6)
ax.vlines(speed_comp_up_t, speed_band[3], speed_levels[0], color=GREEN, lw=6)
ax.vlines(speed_comp_dn_t, speed_levels[1], speed_band[2], color=GREEN, lw=6)
ax.plot(speed_pid_t, speed_pid_v, color=BLUE, lw=4.5)
ax.fill_between(speed_band[:2], speed_band[2], speed_band[3], color=BLUE, lw=0)
ax.plot(speed_ref_t, speed_ref_v, color='black', lw=5, ls=(0, (5, 3.5)), zorder=4)
d = speed_deadband
ax.add_patch(Rectangle((d[0], d[2]), d[1] - d[0], d[3] - d[2], fill=False, ec=GRAYBOX, lw=8, zorder=5))
ax.annotate('', xy=(17.0, 7.72), xytext=(12.7, 8.62),
            arrowprops=dict(arrowstyle='-|>,head_length=1.0,head_width=0.5', color=GRAYBOX, lw=4.5), zorder=5)
ax.text(18.53, 7.69, 'Deadband', fontsize=27, ha='center', va='center', zorder=6,
        bbox=dict(boxstyle='square,pad=0.3', fc='#f2f2f2', ec='#cccccc', lw=1.5))
dbox(ax, 4.68, 5.47, -0.58, 10.0, lw=1.8)
ins = inset(ax, [0.10, 0.062, 0.44, 0.554], (0, 42.5), (0, 9.87), [4.67, 14.4, 24.1, 33.8], [2, 4, 6, 8])
steps(ins, speed_in_ref, 'black', lw=2.5, ls=(0, (4, 2.5)))
steps(ins, speed_in_fuzzy, RED)
steps(ins, speed_in_comp, GREEN)
steps(ins, speed_in_pid, BLUE)
connect(ax, ins, (5.47, 7.37), [(1, 1), (0, 0)])
legend(ax, [H('black', (0, (3, 1.5))), H(BLUE), H(GREEN), H(RED)],
       ['Reference', 'PID', 'Compensated PID', 'Fuzzy'], (0.56, 0.056), 'lower left', 23, 'black')
labels(ax, r'$\mathrm{Speed}[RPM]$', (-0.092, 0.5), (0.434, -0.119))

# ---- (b)
ax = make_axes([0.36826, 0.65745, 0.28611, 0.33380], (4.58, 20.74), (-15.1, 15.1), [5, 10, 15, 20],
               [-15, -10, -5, 0, 5, 10, 15], light=True)
band(ax, acc_env_t, acc_fuzzy_env, RED)
ax.vlines(acc_fuzzy_small_t, 0, acc_fuzzy_small_v, color=RED, lw=6)
ax.vlines(acc_fuzzy_spk_t, 0, acc_fuzzy_spk_v, color=RED, lw=9)
ax.plot(acc_fuzzy_t, acc_fuzzy_v, color=RED, lw=5)
band(ax, acc_env_t, acc_comp_env, GREEN)
ax.vlines(acc_comp_spk_t, 0, acc_comp_spk_v, color=GREEN, lw=5)
ax.plot(acc_comp_t, acc_comp_v, color=GREEN, lw=5)
band(ax, acc_env_t, acc_pid_env, BLUE)
ax.plot(acc_pid_t, acc_pid_v, color=BLUE, lw=5.5)
dbox(ax, 4.6, 5.42, -14.7, 15.0, lw=2.6)
dbox(ax, 12.76, 13.92, -4.0, 3.75, lw=2.6)
dbox(ax, 19.91, 20.72, -14.95, 14.8, lw=2.6)
ins = inset(ax, [0.1096, 0.639, 0.317, 0.321], (0, 37.5), (0, 100), [13, 25.2], [20.5, 41, 61.6, 82],
            grid_ls='-', grid_c='#e8e8e8')
steps(ins, acc_in1_fuzzy, RED); steps(ins, acc_in1_comp, GREEN); steps(ins, acc_in1_pid, BLUE)
connect(ax, ins, (5.42, -0.85), [(0, 1), (1, 0)])
ins = inset(ax, [0.1096, 0.042, 0.317, 0.325], (0, 42.5), (0, 100), [14, 27], [37, 70],
            grid_ls='-', grid_c='#e8e8e8')
steps(ins, acc_in2_fuzzy, RED); steps(ins, acc_in2_comp, GREEN); steps(ins, acc_in2_pid, BLUE)
connect(ax, ins, (12.76, 0.0), [(0, 1), (1, 0)])
ins = inset(ax, [0.582, 0.626, 0.336, 0.335], (0, 39), (0, 100), [12.9, 33.6], [13.2, 27, 40.8, 54.5, 68.4],
            grid_ls='-', grid_c='#e8e8e8')
steps(ins, acc_in3_fuzzy, RED); steps(ins, acc_in3_comp, GREEN); steps(ins, acc_in3_pid, BLUE)
connect(ax, ins, (19.91, -7.5), [(0, 0), (1, 1)])
legend(ax, [H(RED), H(GREEN), H(BLUE)], ['Fuzzy', 'Compensated PID', 'PID'],
       (0.632, 0.0335), 'lower left', 23, '#8c8c8c')
labels(ax, r'$\mathrm{Acceleration}\ [rad/s^2]$', (-0.083, 0.5), (0.48, -0.123))

# ---- (c)
ax = make_axes([0.70193, 0.65837, 0.28535, 0.32688], (4.55, 20.76), (-124, 128), [5, 10, 15, 20],
               [-100, -50, 0, 50, 100], light=True)
band(ax, jerk_env_t, jerk_fuzzy_env, RED)
ax.vlines(jerk_fuzzy_small_t, 0, jerk_fuzzy_small_v, color=RED, lw=6)
ax.vlines(jerk_fuzzy_spk_t, 0, jerk_fuzzy_spk_v, color=RED, lw=9)
ax.plot(jerk_fuzzy_t, jerk_fuzzy_v, color=RED, lw=5)
band(ax, jerk_env_t, jerk_comp_env, GREEN)
ax.vlines(jerk_comp_spk_t, 0, jerk_comp_spk_v, color=GREEN, lw=5)
ax.plot(jerk_comp_t, jerk_comp_v, color=GREEN, lw=5)
band(ax, jerk_env_t, jerk_pid_env, BLUE)
ax.plot(jerk_pid_t, jerk_pid_v, color=BLUE, lw=5.5)
dbox(ax, 4.5, 5.29, -123.6, 127.5, lw=2.6)
dbox(ax, 12.87, 14.02, -27, 26, lw=2.6)
dbox(ax, 19.86, 20.74, -124, 127.5, lw=2.6)
ins = inset(ax, [0.099, 0.61, 0.334, 0.338], (0, 36), (0, 100), [12.4, 24.9], [23.5, 50, 79.5],
            grid_ls='-', grid_c='#e8e8e8')
steps(ins, jerk_in1_fuzzy, RED); steps(ins, jerk_in1_comp, GREEN); steps(ins, jerk_in1_pid, BLUE)
connect(ax, ins, (5.29, 1.8), [(0, 1), (1, 0)])
ins = inset(ax, [0.102, 0.036, 0.324, 0.3315], (0, 42.5), (0, 100), [10.9, 21.9, 32.9], [16, 46, 76],
            grid_ls='-', grid_c='#e8e8e8')
steps(ins, jerk_in2_fuzzy, RED); steps(ins, jerk_in2_comp, GREEN); steps(ins, jerk_in2_pid, BLUE)
connect(ax, ins, (12.87, 0.0), [(0, 1), (1, 0)])
ins = inset(ax, [0.583, 0.602, 0.333, 0.346], (0, 36), (0, 100), [8.9, 20.7, 32.6], [28, 50, 72],
            grid_ls='-', grid_c='#e8e8e8')
steps(ins, jerk_in3_fuzzy, RED); steps(ins, jerk_in3_comp, GREEN); steps(ins, jerk_in3_pid, BLUE)
connect(ax, ins, (19.86, 1.4), [(0, 0), (1, 1)])
legend(ax, [H(RED), H(GREEN), H(BLUE)], ['Fuzzy', 'Compensated PID', 'PID'],
       (0.626, 0.063), 'lower left', 23, '#8c8c8c')
labels(ax, r'$\mathrm{Jerk}\ \ [rad/s^3]$', (-0.089, 0.483), (0.496, -0.151))

# ---- (d)
ax = make_axes([0.05264, 0.13094, 0.27696, 0.32504], (4.55, 20.56), (-0.015, 2.3), [5, 10, 15, 20],
               [0, 0.5, 1, 1.5, 2])
ax.set_yticklabels(['0', '0.5', '1', '1.5', '2'])
ax.fill_between(ctrl_band_t, ctrl_fuzzy_lo, ctrl_fuzzy_hi, step='mid', color=RED, lw=0)
ax.vlines(ctrl_fuzzy_up_t, 1.6, ctrl_fuzzy_up_v, color=RED, lw=5)
ax.vlines(ctrl_fuzzy_dn_t, ctrl_fuzzy_dn_v, 1.6, color=RED, lw=5)
ax.plot(ctrl_fuzzy_t, ctrl_fuzzy_v, color=RED, lw=5)
ax.fill_between(ctrl_band_t, ctrl_comp_lo, ctrl_comp_hi, step='mid', color=GREEN, lw=0)
ax.vlines(ctrl_comp_up_t, 1.6, ctrl_comp_up_v, color=GREEN, lw=5)
ax.vlines(ctrl_comp_dn_t, ctrl_comp_dn_v, 1.6, color=GREEN, lw=5)
ax.plot(ctrl_comp_t, ctrl_comp_v, color=GREEN, lw=5)
ax.plot(ctrl_pid_t, ctrl_pid_v, color=BLUE, lw=7)
dbox(ax, 4.61, 5.43, 0.01, 2.3, lw=1.8)
ins = inset(ax, [0.105, 0.0435, 0.307, 0.424], (0, 50), (0, 100), [3.4, 13, 23.4, 34, 44.25], [21, 43, 64.7, 87])
steps(ins, ctrl_in_fuzzy, RED); steps(ins, ctrl_in_comp, GREEN); steps(ins, ctrl_in_pid, BLUE)
connect(ax, ins, (5.43, 1.16), [(0, 0), (1, 1)])
legend(ax, [H(RED), H(GREEN), H(BLUE)], ['Fuzzy', 'Compensated PID', 'PID'],
       (0.669, 0.002), 'lower left', 22, 'black')
labels(ax, r'$\mathrm{Control\ Signal}\ u(t)$', (-0.102, 0.5), (0.51, -0.119))

# ---- (e)
ax = make_axes([0.36826, 0.13370, 0.28866, 0.33933], (4.53, 20.93), (-0.02, 10), [5, 10, 15, 20],
               [0, 2, 4, 6, 8, 10])
ax.axvspan(4.53, 6.0, color='#f3f3f3', lw=0, zorder=0)
ax.axvspan(19.98, 20.93, color='#f3f3f3', lw=0, zorder=0)
ax.bar(err_fuzzy_b0, err_burst_top - err_band[2], width=np.subtract(err_fuzzy_b1, err_fuzzy_b0),
       bottom=err_band[2], align='edge', color=RED, lw=0)
ax.bar(err_fuzzy_tall_t, np.subtract(err_fuzzy_tall_v, err_band[2]), width=0.08, bottom=err_band[2],
       color=RED, lw=0)
ax.vlines(err_comp_spk_t, err_band[2], err_burst_top, color=GREEN, lw=5)
ax.plot(err_fuzzy_t, err_fuzzy_v, color=RED, lw=6)
ax.plot(err_comp_t, err_comp_v, color=GREEN, lw=6)
ax.plot(err_pid_t, err_pid_v, color=BLUE, lw=7)
ax.plot(err_band[:2], [err_band[2]] * 2, color=BLUE, lw=7)
d = err_deadband
ax.add_patch(Rectangle((d[0], d[2]), d[1] - d[0], d[3] - d[2], fill=False, ec=GRAYBOX, lw=8, zorder=5))
ax.annotate('', xy=(15.7, 1.97), xytext=(12.74, 0.49),
            arrowprops=dict(arrowstyle='-|>,head_length=1.0,head_width=0.5', color=GRAYBOX, lw=4.5), zorder=5)
ax.text(17.16, 1.98, 'Deadband', fontsize=27, ha='center', va='center', zorder=6,
        bbox=dict(boxstyle='square,pad=0.3', fc='#f2f2f2', ec='#cccccc', lw=1.5))
dbox(ax, 4.57, 5.43, 0.0, 9.9, lw=1.8)
ins = inset(ax, [0.128, 0.509, 0.385, 0.463], (0, 39), (0, 100), [3, 13.8, 23.8, 33.8], [21, 43, 65.6, 87.6],
            bg='#f5f5f5')
steps(ins, err_in_fuzzy, RED); steps(ins, err_in_comp, GREEN); steps(ins, err_in_pid, BLUE)
connect(ax, ins, (5.43, 2.48), [(0, 1), (1, 0)])
legend(ax, [H(RED), H(GREEN), H(BLUE)], ['Fuzzy', 'Compensated PID', 'PID'],
       (0.5316, 0.969), 'upper left', 27, 'black')
labels(ax, r'$\mathrm{Absolute\ Error}\,[RPM]$', (-0.080, 0.475), (0.431, -0.126))

# ---- (f)
ax = make_axes([0.69761, 0.13555, 0.29273, 0.33518], (0, 24), (0, 7), [0, 5, 10, 15, 20], range(0, 8))
ax.axvspan(5.0, 6.0, color='#f3f3f3', lw=0, zorder=0)
ax.axvspan(20.0, 21.0, color='#f3f3f3', lw=0, zorder=0)
ax.plot(fit_pid[0], fit_pid[1], color=BLUE, lw=3, ls=(0, (8, 5)))
ax.plot(fit_comp[0], fit_comp[1], color=GREEN, lw=3, ls=(0, (8, 5)))
ax.plot(fit_fuzzy[0], fit_fuzzy[1], color=RED, lw=3, ls=(0, (8, 5)))
ax.plot(cum_pid_t, cum_pid_v, color=BLUE, lw=3.5)
ax.plot(cum_comp_t, cum_comp_v, color=GREEN, lw=3.5)
ax.plot(cum_fuzzy_t, cum_fuzzy_v, color=RED, lw=3.5)
dbox(ax, 4.03, 7.2, -0.16, 1.12, lw=2.2)
ins = inset(ax, [0.0964, 0.3305, 0.291, 0.563], (0, 392), (0, 100), [51, 212.5, 374],
            [16.7, 34.8, 53, 71.2, 89.2])
ins.plot(cum_in_fuzzy_x, cum_in_fuzzy_v, color=RED, lw=3)
ins.plot(cum_in_comp_x, cum_in_comp_v, color=GREEN, lw=3)
ins.plot(cum_in_pid_x, cum_in_pid_v, color=BLUE, lw=3)
ins.set_title('Transient Response', fontsize=29, pad=4)
connect(ax, ins, (4.03, 1.12), [(0, 0)])
connect(ax, ins, (7.2, 1.12), [(1, 0)])
legend(ax, [H(BLUE, (0, (3, 2)), 4), H(GREEN, (0, (3, 2)), 4), H(RED, (0, (3, 2)), 4)], slope_labels,
       (0.543, 0.0516), 'lower left', 21, 'black')
labels(ax, r'$\mathrm{Acumulated\ Error}\ [RPM\cdot s]$', (-0.072, 0.49), (0.447, -0.143))

# panel letters
for x, y, s in [(652, 973, 'a'), (1953, 968, 'b'), (3252, 973, 'c'),
                (652, 2094, 'd'), (1953, 2096, 'e'), (3252, 2096, 'f')]:
    fig.text(x / 3932, 1 - y / 2169, r'($\mathbf{%s}$)' % s, ha='center', va='center', fontsize=44)

fig.savefig('out.png', dpi=100)
